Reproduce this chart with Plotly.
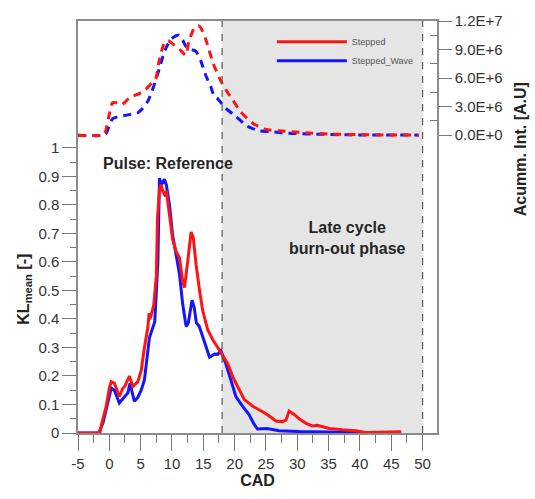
import plotly.graph_objects as go

# ---------------- data ----------------
# KL_mean, Stepped (red, solid)
kl_step_x = [-5, -1.5, -1.3, -0.5, 0.0, 0.3, 0.8, 1.6, 2.15, 2.5, 3.2, 3.75, 4.55, 5.1, 5.6, 5.9, 6.15,
             6.35, 6.45, 6.65, 7.1, 7.5, 7.7, 8.0, 8.25, 8.5, 8.95, 9.1, 9.6, 10.1, 10.65, 11.2, 11.7,
             12.0, 12.5, 13.05, 13.4, 13.85, 14.4, 14.9, 15.7, 16.5, 17.3, 18.0, 18.9, 19.7, 20.5,
             21.55, 22.9, 24.2, 25.2, 26.6, 27.6, 28.2, 28.7, 29.5, 30.3, 31.4, 32.4, 33.2, 34.3,
             35.1, 37.2, 39.3, 40.9, 43.5, 46.6]
kl_step_y = [0, 0, 0.025, 0.094, 0.157, 0.18, 0.175, 0.128, 0.157, 0.165, 0.2, 0.163, 0.18, 0.22, 0.30,
             0.34, 0.37, 0.42, 0.40, 0.41, 0.45, 0.55, 0.76, 0.85, 0.872, 0.85, 0.83, 0.85, 0.76, 0.68,
             0.637, 0.614, 0.534, 0.51, 0.60, 0.705, 0.685, 0.59, 0.50, 0.43, 0.362, 0.328, 0.30,
             0.277, 0.243, 0.197, 0.162, 0.117, 0.094, 0.077, 0.065, 0.042, 0.04, 0.045, 0.077,
             0.065, 0.05, 0.034, 0.025, 0.027, 0.022, 0.016, 0.011, 0.008, 0.002, 0.003, 0.004]

# KL_mean, Stepped_Wave (blue, solid)
kl_wave_x = [-5, -1.7, -1.0, -0.2, 0.3, 0.8, 1.6, 2.15, 2.95, 3.3, 4.0, 4.55, 5.1, 5.6, 6.0, 6.4,
             7.25, 7.75, 8.0, 8.3, 8.8, 9.1, 9.6, 10.1, 10.65, 11.2, 11.7, 12.25, 12.6, 13.2, 13.55,
             13.9, 14.35, 14.9, 15.2, 16.0, 16.8, 17.3, 17.8, 18.6, 19.4, 20.2, 21.25, 22.3, 23.1,
             23.65, 25.2, 27.1, 30.3, 35.0, 40.0]
kl_wave_y = [0, 0, 0.036, 0.105, 0.157, 0.15, 0.105, 0.12, 0.14, 0.174, 0.111, 0.125, 0.151, 0.186,
             0.265, 0.334, 0.39, 0.60, 0.894, 0.87, 0.89, 0.87, 0.80, 0.694, 0.626, 0.557, 0.454,
             0.374, 0.385, 0.466, 0.44, 0.386, 0.374, 0.34, 0.323, 0.266, 0.277, 0.276, 0.289,
             0.243, 0.186, 0.128, 0.094, 0.065, 0.031, 0.014, 0.016, 0.008, 0.005, 0.003, 0.002]

# Accumulated intensity, Stepped (red, dashed)
acc_step_x = [-5, -1.0, -0.6, 0.0, 0.5, 1.2, 2.0, 3.4, 4.6, 5.8, 6.8, 7.4, 7.95, 8.5, 9.0, 9.5, 10.1,
              10.6, 11.4, 12.2, 12.7, 13.5, 14.2, 14.6, 15.4, 16.6, 17.75, 18.8, 19.7, 20.9, 23.0,
              25.0, 27.1, 29.2, 31.3, 35.6, 40.0, 45.0, 49.4]
acc_step_y = [0, 0, 0.4e6, 2.2e6, 3.4e6, 3.4e6, 3.2e6, 4.05e6, 4.3e6, 4.8e6, 5.5e6, 5.9e6, 7.8e6,
              9.2e6, 9.9e6, 9.9e6, 9.6e6, 9.36e6, 8.9e6, 8.4e6, 9.87e6, 11.2e6, 11.5e6, 11.3e6,
              10.05e6, 7.5e6, 5.76e6, 4.56e6, 3.7e6, 2.5e6, 1.2e6, 0.6e6, 0.45e6, 0.35e6, 0.25e6,
              0.1e6, 0.05e6, 0.02e6, 0]

# Accumulated intensity, Stepped_Wave (blue, dashed)
acc_wave_x = [-5, -0.8, -0.4, 0.0, 0.5, 1.3, 2.4, 3.5, 4.5, 5.3, 6.1, 6.8, 7.4, 8.2, 8.75, 9.3, 9.8,
              10.5, 11.1, 11.7, 12.2, 13.0, 13.8, 14.6, 15.4, 16.2, 16.75, 17.2, 18.55, 20.15, 22.0,
              23.9, 26.0, 28.2, 30.3, 33.0, 38.0, 49.4]
acc_wave_y = [0, 0, 0.3e6, 1.0e6, 1.72e6, 1.9e6, 2.06e6, 2.2e6, 2.33e6, 2.8e6, 3.5e6, 4.6e6, 5.76e6,
              7.47e6, 8.7e6, 9.5e6, 10.05e6, 10.4e6, 10.5e6, 10.0e6, 9.36e6, 9.0e6, 8.84e6, 7.8e6,
              6.27e6, 5.08e6, 4.05e6, 3.88e6, 2.85e6, 2.0e6, 0.95e6, 0.45e6, 0.35e6, 0.2e6, 0.15e6,
              0.1e6, 0.03e6, 0]

series_names = ["Stepped", "Stepped_Wave"]
phase_bounds = [18, 50]

x_ticks = [-5, 0, 5, 10, 15, 20, 25, 30, 35, 40, 45, 50]
x_ticktext = ["-5", "0", "5", "10", "15", "20", "25", "30", "35", "40", "45", "50"]
x_minor = [-2.5, 2.5, 7.5, 12.5, 17.5, 22.5, 27.5, 32.5, 37.5, 42.5, 47.5]
kl_ticks = [0, 0.1, 0.2, 0.3, 0.4, 0.5, 0.6, 0.7, 0.8, 0.9, 1]
kl_ticktext = ["0", "0.1", "0.2", "0.3", "0.4", "0.5", "0.6", "0.7", "0.8", "0.9", "1"]
kl_minor = [0.05, 0.15, 0.25, 0.35, 0.45, 0.55, 0.65, 0.75, 0.85, 0.95]
acc_ticks = [0, 3e6, 6e6, 9e6, 12e6]
acc_ticktext = ["0.0E+0", "3.0E+6", "6.0E+6", "9.0E+6", "1.2E+7"]
acc_minor = [1.5e6, 4.5e6, 7.5e6, 10.5e6]

RED = "#ff1414"
BLUE = "#1414ff"
FONT = "Arial, Liberation Sans, sans-serif"
AX = "#8c8c8c"

fig = go.Figure()

fig.add_trace(go.Scatter(x=kl_wave_x, y=kl_wave_y, mode="lines", name=series_names[1],
                         line=dict(color=BLUE, width=3), legendrank=2))
fig.add_trace(go.Scatter(x=kl_step_x, y=kl_step_y, mode="lines", name=series_names[0],
                         line=dict(color=RED, width=3), legendrank=1))
fig.add_trace(go.Scatter(x=acc_wave_x, y=acc_wave_y, mode="lines", yaxis="y2", showlegend=False,
                         name=series_names[1] + " acc.",
                         line=dict(color=BLUE, width=3, dash="8px,6px", shape="spline", smoothing=0.5)))
fig.add_trace(go.Scatter(x=acc_step_x, y=acc_step_y, mode="lines", yaxis="y2", showlegend=False,
                         name=series_names[0] + " acc.",
                         line=dict(color=RED, width=3, dash="8px,6px", shape="spline", smoothing=0.5)))

# late-cycle phase shading and boundaries
fig.add_shape(type="rect", xref="x", yref="paper", x0=phase_bounds[0], x1=phase_bounds[1],
              y0=0, y1=1, fillcolor="#e5e5e5", line=dict(width=0), layer="below")
for xb in phase_bounds:
    fig.add_shape(type="line", xref="x", yref="paper", x0=xb, x1=xb, y0=0, y1=1,
                  line=dict(color="#555555", width=1.2, dash="7px,7px"), layer="above")

fig.update_layout(
    width=535, height=499,
    margin=dict(l=78, r=98, t=16, b=62),
    paper_bgcolor="white", plot_bgcolor="white",
    font=dict(family=FONT, size=14, color="#333333"),
    showlegend=True,
    legend=dict(x=0.54, y=0.985, xanchor="left", yanchor="top", bgcolor="rgba(0,0,0,0)",
                font=dict(size=9, color="#555555", family=FONT), itemwidth=70,
                tracegroupgap=0),
    xaxis=dict(range=[-5, 52.3], tickmode="array", tickvals=x_ticks, ticktext=x_ticktext,
               ticks="outside", ticklen=16, tickwidth=1.3, tickcolor="#777777",
               minor=dict(tickmode="array", tickvals=x_minor, ticks="outside", ticklen=8,
                          tickwidth=1.3, tickcolor="#777777", showgrid=False),
               showline=True, linecolor=AX, linewidth=1.5, mirror=True,
               showgrid=False, zeroline=False,
               tickfont=dict(size=15, color="#333333"),
               title=dict(text="<b>CAD</b>", font=dict(size=16, color="#222222"), standoff=4)),
    yaxis=dict(range=[0, 1.445], tickmode="array", tickvals=kl_ticks, ticktext=kl_ticktext,
               ticks="outside", ticklen=14, tickwidth=1.3, tickcolor="#777777",
               minor=dict(tickmode="array", tickvals=kl_minor, ticks="outside", ticklen=6,
                          tickwidth=1.3, tickcolor="#777777", showgrid=False),
               showline=True, linecolor=AX, linewidth=1.5,
               showgrid=False, zeroline=False,
               tickfont=dict(size=15, color="#333333")),
    yaxis2=dict(overlaying="y", side="right", range=[-3.132e7, 1.2e7],
                tickmode="array", tickvals=acc_ticks, ticktext=acc_ticktext,
                ticks="outside", ticklen=13, tickwidth=1.3, tickcolor="#777777",
                minor=dict(tickmode="array", tickvals=acc_minor, ticks="inside", ticklen=7,
                           tickwidth=1.3, tickcolor="#777777", showgrid=False),
                showline=True, linecolor=AX, linewidth=1.5,
                showgrid=False, zeroline=False,
                tickfont=dict(size=15, color="#333333")),
)

fig.add_annotation(x=9.4, y=0.945, xref="x", yref="y", text="<b>Pulse: Reference</b>",
                   showarrow=False, font=dict(size=16, color="#262626"))
fig.add_annotation(x=38, y=0.684, xref="x", yref="y", text="<b>Late cycle<br>burn-out phase</b>",
                   showarrow=False, font=dict(size=16, color="#262626"))
fig.add_annotation(x=-0.18, y=0.35, xref="paper", yref="paper",
                   text="<b>KL<sub>mean</sub> [-]</b>", textangle=-90, showarrow=False,
                   font=dict(size=16, color="#222222"))
fig.add_annotation(x=1.262, y=0.855, xref="paper", yref="paper",
                   text="<b>Acumm. Int. [A.U]</b>", textangle=-90, showarrow=False,
                   font=dict(size=16, color="#222222"))

fig.write_html("out.html")
